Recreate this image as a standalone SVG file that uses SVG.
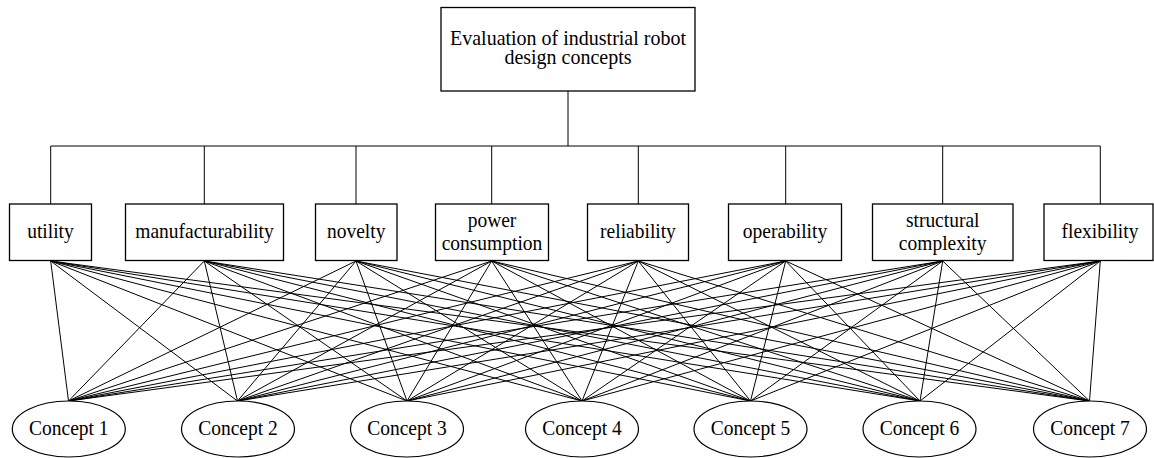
<svg xmlns="http://www.w3.org/2000/svg" width="1154" height="458" viewBox="0 0 1154 458">
<style>
.box{fill:#fff;stroke:#000;stroke-width:1.3}
.ell{fill:#fff;stroke:#000;stroke-width:1.2}
.t{font-family:"Liberation Serif","Times New Roman",serif;font-size:19.5px;fill:#000;text-anchor:middle}
.c line,.c path{stroke:#000;stroke-width:1;fill:none}
</style>
<rect width="1154" height="458" fill="#fff"/>
<g id="connectors" class="c">
<path d="M568,91V146M50.7,146H1100.3M50.7,146V204M204.3,146V204M356,146V204M491.7,146V204M638.3,146V204M785.7,146V204M942.7,146V204M1100.3,146V204" stroke-width="1.3"/>
<path d="
M50.7,261L68.5,401M50.7,261L237.5,401M50.7,261L407,401M50.7,261L582,401M50.7,261L750.5,401M50.7,261L920,401M50.7,261L1089.5,401
M204.3,261L68.5,401M204.3,261L237.5,401M204.3,261L407,401M204.3,261L582,401M204.3,261L750.5,401M204.3,261L920,401M204.3,261L1089.5,401
M356,261L68.5,401M356,261L237.5,401M356,261L407,401M356,261L582,401M356,261L750.5,401M356,261L920,401M356,261L1089.5,401
M491.7,261L68.5,401M491.7,261L237.5,401M491.7,261L407,401M491.7,261L582,401M491.7,261L750.5,401M491.7,261L920,401M491.7,261L1089.5,401
M638.3,261L68.5,401M638.3,261L237.5,401M638.3,261L407,401M638.3,261L582,401M638.3,261L750.5,401M638.3,261L920,401M638.3,261L1089.5,401
M785.7,261L68.5,401M785.7,261L237.5,401M785.7,261L407,401M785.7,261L582,401M785.7,261L750.5,401M785.7,261L920,401M785.7,261L1089.5,401
M942.7,261L68.5,401M942.7,261L237.5,401M942.7,261L407,401M942.7,261L582,401M942.7,261L750.5,401M942.7,261L920,401M942.7,261L1089.5,401
M1100.3,261L68.5,401M1100.3,261L237.5,401M1100.3,261L407,401M1100.3,261L582,401M1100.3,261L750.5,401M1100.3,261L920,401M1100.3,261L1089.5,401"/>
</g>
<g id="root"><rect class="box" x="441" y="7.5" width="254" height="83.5"/><text class="t" x="568" y="45.5" style="font-size:20px" transform="matrix(1,0,0,1.1,0,-4.55)">Evaluation of industrial robot</text><text class="t" x="568" y="64.5" style="font-size:20px" transform="matrix(1,0,0,1.1,0,-6.45)">design concepts</text></g>
<g id="utility"><rect class="box" x="9.5" y="204" width="82" height="56.5"/><text class="t" x="50.5" y="238.5" transform="matrix(1,0,0,1.1,0,-23.85)">utility</text></g>
<g id="manufacturability"><rect class="box" x="125.5" y="204" width="158" height="56.5"/><text class="t" x="204.5" y="238.5" transform="matrix(1,0,0,1.1,0,-23.85)">manufacturability</text></g>
<g id="novelty"><rect class="box" x="315.5" y="204" width="81.5" height="56.5"/><text class="t" x="356.2" y="238.5" transform="matrix(1,0,0,1.1,0,-23.85)">novelty</text></g>
<g id="power"><rect class="box" x="435.5" y="204" width="113" height="56.5"/><text class="t" x="492" y="227" transform="matrix(1,0,0,1.1,0,-22.7)">power</text><text class="t" x="492" y="250.5" transform="matrix(1,0,0,1.1,0,-25.05)">consumption</text></g>
<g id="reliability"><rect class="box" x="587.5" y="204" width="101" height="56.5"/><text class="t" x="638" y="238.5" transform="matrix(1,0,0,1.1,0,-23.85)">reliability</text></g>
<g id="operability"><rect class="box" x="728.5" y="204" width="113" height="56.5"/><text class="t" x="785" y="238.5" transform="matrix(1,0,0,1.1,0,-23.85)">operability</text></g>
<g id="structural"><rect class="box" x="872.5" y="204" width="140.5" height="56.5"/><text class="t" x="942.7" y="227" transform="matrix(1,0,0,1.1,0,-22.7)">structural</text><text class="t" x="942.7" y="250.5" transform="matrix(1,0,0,1.1,0,-25.05)">complexity</text></g>
<g id="flexibility"><rect class="box" x="1044" y="204" width="109" height="56.5"/><text class="t" x="1100" y="238.5" transform="matrix(1,0,0,1.1,0,-23.85)">flexibility</text></g>
<g id="concept1"><ellipse class="ell" cx="68.8" cy="429" rx="56.5" ry="28"/><text class="t" x="68.8" y="435" transform="matrix(1,0,0,1.05,0,-21.75)">Concept 1</text></g>
<g id="concept2"><ellipse class="ell" cx="238" cy="429" rx="56.5" ry="28"/><text class="t" x="238" y="435" transform="matrix(1,0,0,1.05,0,-21.75)">Concept 2</text></g>
<g id="concept3"><ellipse class="ell" cx="407" cy="429" rx="56.5" ry="28"/><text class="t" x="407" y="435" transform="matrix(1,0,0,1.05,0,-21.75)">Concept 3</text></g>
<g id="concept4"><ellipse class="ell" cx="582" cy="429" rx="56.5" ry="28"/><text class="t" x="582" y="435" transform="matrix(1,0,0,1.05,0,-21.75)">Concept 4</text></g>
<g id="concept5"><ellipse class="ell" cx="750.5" cy="429" rx="56.5" ry="28"/><text class="t" x="750.5" y="435" transform="matrix(1,0,0,1.05,0,-21.75)">Concept 5</text></g>
<g id="concept6"><ellipse class="ell" cx="919.5" cy="429" rx="56.5" ry="28"/><text class="t" x="919.5" y="435" transform="matrix(1,0,0,1.05,0,-21.75)">Concept 6</text></g>
<g id="concept7"><ellipse class="ell" cx="1090" cy="429" rx="56.5" ry="28"/><text class="t" x="1090" y="435" transform="matrix(1,0,0,1.05,0,-21.75)">Concept 7</text></g>
</svg>
